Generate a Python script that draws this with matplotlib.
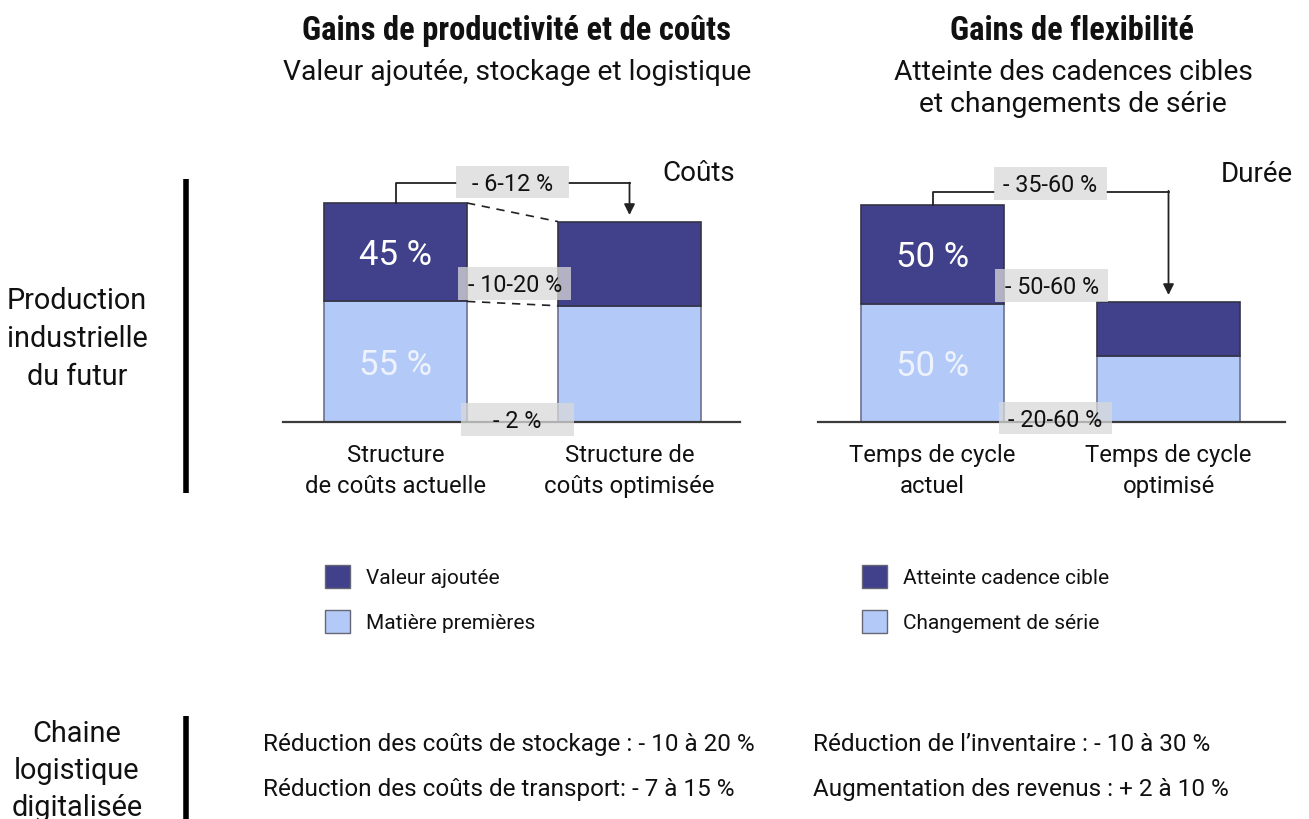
import matplotlib
matplotlib.use("Agg")
import matplotlib.pyplot as plt
from matplotlib import font_manager
from matplotlib.patches import Rectangle
from matplotlib.transforms import offset_copy

# ---------------- data ----------------
cost_categories = ["Structure\nde coûts actuelle", "Structure de\ncoûts optimisée"]
cost_matiere = [55, 53]          # Matière premières (light)
cost_valeur = [45, 38.5]         # Valeur ajoutée (dark)
cost_inner = ["55 %", "45 %"]
cost_reductions = ["- 6-12 %", "- 10-20 %", "- 2 %"]

flex_categories = ["Temps de cycle\nactuel", "Temps de cycle\noptimisé"]
flex_serie = [54.5, 30.3]        # Changement de série (light)
flex_cadence = [45.5, 24.9]      # Atteinte cadence cible (dark)
flex_inner = ["50 %", "50 %"]
flex_reductions = ["- 35-60 %", "- 50-60 %", "- 20-60 %"]

cost_legend = ["Valeur ajoutée", "Matière premières"]
flex_legend = ["Atteinte cadence cible", "Changement de série"]

supply_left = ["Réduction des coûts de stockage : - 10 à 20 %",
               "Réduction des coûts de transport: - 7 à 15 %"]
supply_right = ["Réduction de l\u2019inventaire : - 10 à 30 %",
                "Augmentation des revenus : + 2 à 10 %"]

# ---------------- style ----------------
DARK = "#41408A"
LIGHT = "#B3CAF8"
BOXC = "#D9D9D9"
TXT = "#111111"

names = {f.name for f in font_manager.fontManager.ttflist}
FONT = "Roboto" if "Roboto" in names else "DejaVu Sans"
BOLDFONT = FONT
for cand in ["Roboto Condensed", "Liberation Sans Narrow", "Arial Narrow"]:
    if cand in names:
        BOLDFONT = cand
        break
plt.rcParams["font.family"] = [FONT, "DejaVu Sans"]

W, H = 1309, 820
fig = plt.figure(figsize=(W / 100, H / 100), dpi=100)


def ftext(x, y, s, **kw):
    fig.text(x / W, 1 - y / H, s, **kw)


def panel(left_px, right_px, base_px, centers_px, ppu, light, dark, cats,
          reds, box_centers, arrow_tip, bracket_y, inner_labels, dashed):
    width_px = right_px - left_px
    unit = centers_px[1] - centers_px[0]
    ax = fig.add_axes([left_px / W, (H - base_px) / H, width_px / W, 300 / H])
    x0 = -(centers_px[0] - left_px) / unit
    ax.set_xlim(x0, x0 + width_px / unit)
    ax.set_ylim(0, 300 / ppu)
    ax.axis("off")
    xs = [0, 1]
    bw = 143 / unit
    ax.bar(xs, light, bw, color=LIGHT, edgecolor="#6d7191", linewidth=1.2, zorder=2)
    ax.bar(xs, dark, bw, bottom=light, color=DARK, edgecolor="#333344", linewidth=1.2, zorder=2)
    ax.axhline(0, color="#3b3b3b", lw=1.6, zorder=3, clip_on=False)

    tr = offset_copy(ax.transData, fig=fig, x=0, y=-12, units="dots")
    ax.text(0, light[0] + dark[0] / 2, inner_labels[1], transform=tr, ha="center",
            va="baseline", color="white", fontsize=25, zorder=4)
    ax.text(0, light[0] / 2, inner_labels[0], transform=tr, ha="center",
            va="baseline", color="#EDF2FD", fontsize=25, zorder=4)

    # boxes
    bwid = 113 / unit
    bh = 32.5 / ppu
    trb = offset_copy(ax.transData, fig=fig, x=0, y=-8, units="dots")
    for (cx, cy), lab in zip(box_centers, reds):
        ax.add_patch(Rectangle((cx - bwid / 2, cy - bh / 2), bwid, bh, facecolor=BOXC,
                               edgecolor="none", alpha=0.75, zorder=5, clip_on=False))
        ax.text(cx, cy, lab, transform=trb, ha="center", va="baseline",
                fontsize=16.8, color=TXT, zorder=6)

    # bracket with arrow
    bx, by = box_centers[0]
    top0 = light[0] + dark[0]
    ax.plot([0, 0, bx - bwid / 2], [top0, bracket_y, bracket_y], color="#222222",
            lw=1.3, zorder=4, clip_on=False)
    ax.plot([bx + bwid / 2, 1], [bracket_y, bracket_y], color="#222222", lw=1.3,
            zorder=4, clip_on=False)
    ax.annotate("", xy=(1, arrow_tip), xytext=(1, bracket_y + 0.3),
                arrowprops=dict(arrowstyle="-|>", color="#222222", lw=1.3,
                                mutation_scale=16, shrinkA=0, shrinkB=0),
                zorder=4, annotation_clip=False)

    if dashed:
        ex0 = bw / 2
        ex1 = 1 - bw / 2
        ax.plot([ex0, ex1], [light[0] + dark[0], light[1] + dark[1]], ls=(0, (5, 4)),
                color="#222222", lw=1.2, zorder=3)
        ax.plot([ex0, ex1], [light[0], light[1]], ls=(0, (5, 4)),
                color="#222222", lw=1.2, zorder=3)

    # category labels (baseline of last line at y=493 px)
    trc = offset_copy(ax.transData, fig=fig, x=0, y=-(493 - base_px), units="dots")
    for x, c in zip(xs, cats):
        ax.text(x, 0, c, transform=trc, ha="center", va="baseline", fontsize=17.2,
                linespacing=1.45, color=TXT)
    return ax


# left panel (costs)
ppuL = 218.7 / 100
panel(283, 740, 422.7, [395.5, 629.5], ppuL, cost_matiere, cost_valeur, cost_categories,
      cost_reductions,
      [(0.50, (422.7 - 183) / ppuL), (0.51, (422.7 - 284.5) / ppuL), (0.52, (422.7 - 420.5) / ppuL)],
      (422.7 - 216) / ppuL, (422.7 - 184.3) / ppuL,
      cost_inner, True)

# right panel (flexibility)
ppuR = 216.7 / 100
panel(818, 1285, 422.7, [932.5, 1168.5], ppuR, flex_serie, flex_cadence, flex_categories,
      flex_reductions,
      [(0.50, (422.7 - 184.3) / ppuR), (0.505, (422.7 - 286.3) / ppuR), (0.52, (422.7 - 418.9) / ppuR)],
      (422.7 - 296) / ppuR, (422.7 - 192.5) / ppuR,
      flex_inner, False)

# titles
ftext(516.5, 40, "Gains de productivité et de coûts", ha="center", va="baseline",
      fontsize=23.5, fontweight="bold", family=[BOLDFONT, "DejaVu Sans"], color=TXT)
ftext(517, 80, "Valeur ajoutée, stockage et logistique", ha="center", va="baseline",
      fontsize=20.3, color=TXT)
ftext(1072, 40, "Gains de flexibilité", ha="center", va="baseline",
      fontsize=23.5, fontweight="bold", family=[BOLDFONT, "DejaVu Sans"], color=TXT)
ftext(1073, 80, "Atteinte des cadences cibles", ha="center", va="baseline",
      fontsize=20.3, color=TXT)
ftext(1073, 112, "et changements de série", ha="center", va="baseline",
      fontsize=20.3, color=TXT)

ftext(735, 181, "Coûts", ha="right", va="baseline", fontsize=20, color=TXT)
ftext(1293, 182, "Durée", ha="right", va="baseline", fontsize=20, color=TXT)

# row labels
for i, s in enumerate(["Production", "industrielle", "du futur"]):
    ftext(77, 309 + 38 * i, s, ha="center", va="baseline", fontsize=20.8, color=TXT)
for i, s in enumerate(["Chaine", "logistique", "digitalisée"]):
    ftext(77, 742 + 37 * i, s, ha="center", va="baseline", fontsize=20.8, color=TXT)

fig.add_artist(plt.Line2D([186 / W, 186 / W], [1 - 180 / H, 1 - 494 / H], color="black",
                          lw=4, solid_capstyle="butt"))
fig.add_artist(plt.Line2D([186 / W, 186 / W], [1 - 717 / H, 0], color="black",
                          lw=4, solid_capstyle="butt"))

# legends
for (lx, labels) in [(325, cost_legend), (862, flex_legend)]:
    for j, (lab, col) in enumerate(zip(labels, [DARK, LIGHT])):
        top = 566 + 45 * j
        fig.add_artist(Rectangle((lx / W, 1 - (top + 23) / H), 25 / W, 23 / H,
                                 facecolor=col, edgecolor="#666677", lw=1,
                                 transform=fig.transFigure))
        ftext(lx + 41, top + 18, lab, ha="left", va="baseline", fontsize=15, color=TXT)

# supply chain lines
for i, s in enumerate(supply_left):
    ftext(263, 751 + 45 * i, s, ha="left", va="baseline", fontsize=17.5, color=TXT)
for i, s in enumerate(supply_right):
    ftext(813, 751 + 45 * i, s, ha="left", va="baseline", fontsize=17.5, color=TXT)

fig.savefig("out.png", dpi=100, facecolor="white")
